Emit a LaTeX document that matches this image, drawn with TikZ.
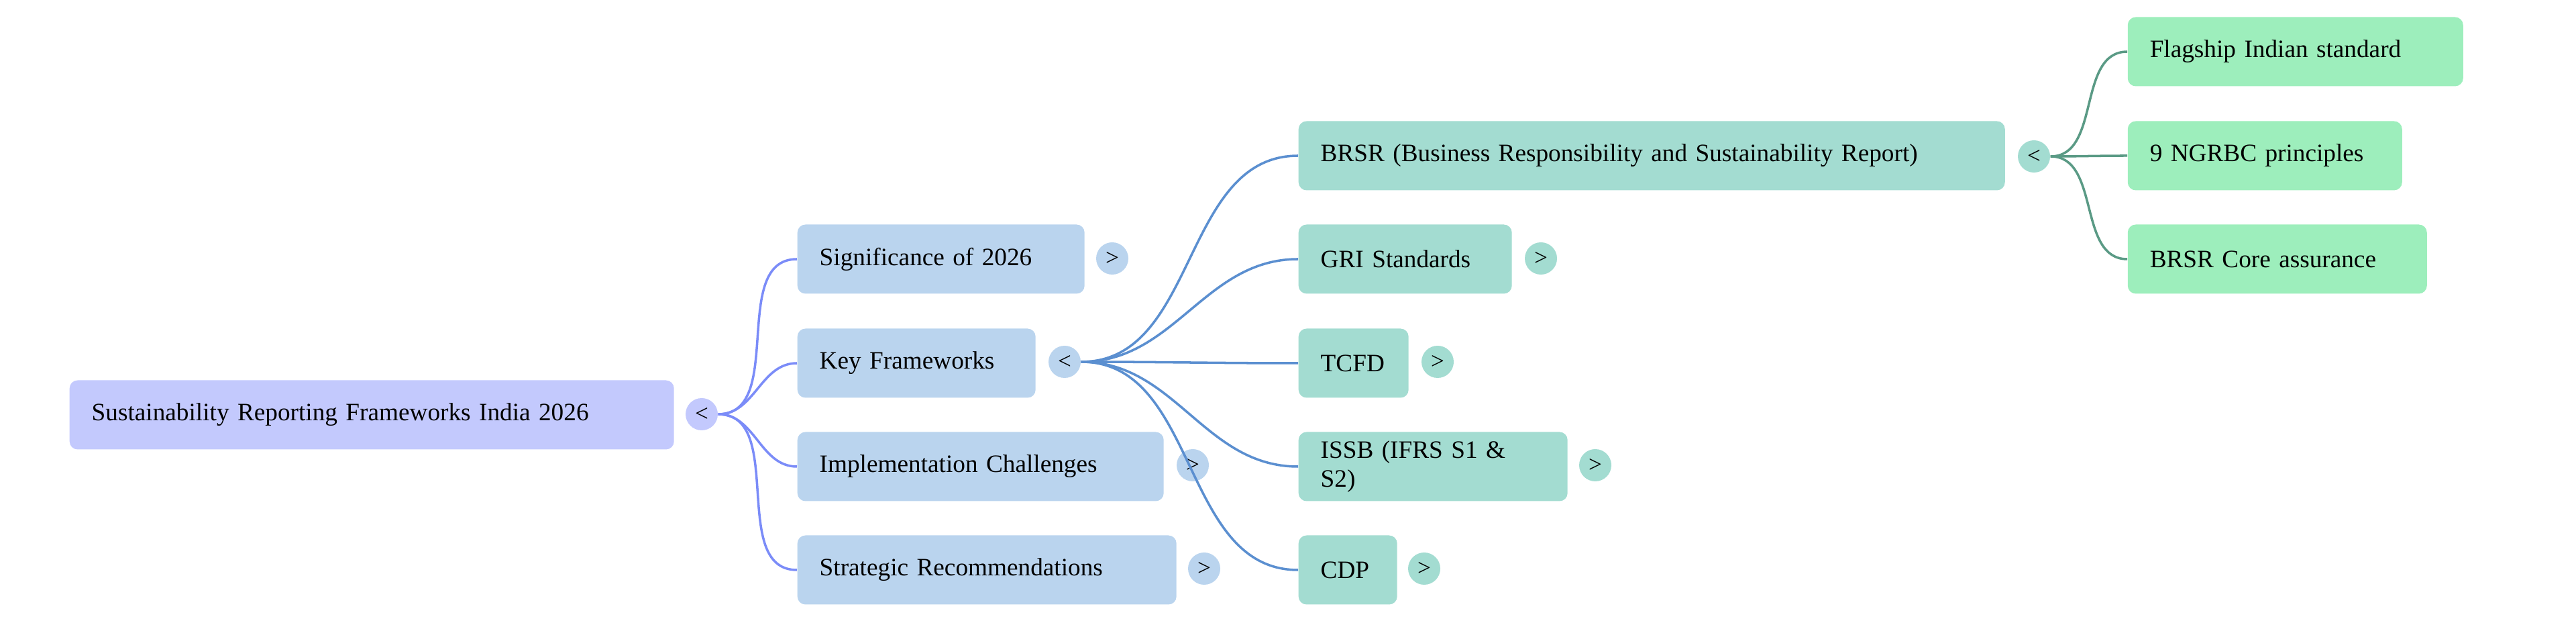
\documentclass[tikz,border=0pt]{standalone}
\usepackage{fontspec}
\setmainfont{Liberation Serif}
\usetikzlibrary{positioning}
\definecolor{rootfill}{HTML}{C3C9FD}
\definecolor{topicfill}{HTML}{BAD4EE}
\definecolor{framefill}{HTML}{A3DCD1}
\definecolor{leaffill}{HTML}{9DEEBC}
\definecolor{rootedge}{HTML}{7B8CF8}
\definecolor{topicedge}{HTML}{5B8FD0}
\definecolor{frameedge}{HTML}{5A9A85}

\begin{document}
\begin{tikzpicture}[
  box/.style={anchor=west,rounded corners=0.12cm,minimum height=1.03cm,inner xsep=0.33cm,
    font=\fontsize{10.6}{12}\selectfont,align=left},
  toggle/.style={circle,inner sep=0pt,minimum size=0.48cm,font=\fontsize{10}{12}\selectfont},
  link/.style={line width=1pt,out=0,in=180}]
  \useasboundingbox (0,0) rectangle (38.4,-9.28);

  % Root
  \node[box,fill=rootfill,text width=8.35cm] (root) at (1.03,-6.18) {Sustainability Reporting Frameworks India 2026};
  \node[toggle,fill=rootfill] (rootT) at (10.46,-6.17) {<};

  % First level
  \node[box,fill=topicfill,text width=3.62cm] (sig) at (11.88,-3.86) {Significance of 2026};
  \node[box,fill=topicfill,text width=2.89cm] (key) at (11.88,-5.41) {Key Frameworks};
  \node[box,fill=topicfill,text width=4.80cm] (impl) at (11.88,-6.95) {Implementation Challenges};
  \node[box,fill=topicfill,text width=4.99cm] (strat) at (11.88,-8.49) {Strategic Recommendations};
  \node[toggle,fill=topicfill] (sigT) at (16.58,-3.85) {>};
  \node[toggle,fill=topicfill] (keyT) at (15.87,-5.39) {<};
  \node[toggle,fill=topicfill] (implT) at (17.78,-6.93) {>};
  \node[toggle,fill=topicfill] (stratT) at (17.95,-8.47) {>};

  % Frameworks
  \node[box,fill=framefill,text width=9.87cm] (brsr) at (19.35,-2.32) {BRSR (Business Responsibility and Sustainability Report)};
  \node[box,fill=framefill,text width=2.52cm] (gri) at (19.35,-3.86) {GRI Standards};
  \node[box,fill=framefill,text width=0.98cm] (tcfd) at (19.35,-5.41) {TCFD};
  \node[box,fill=framefill,text width=3.35cm] (issb) at (19.35,-6.95) {ISSB (IFRS S1 \& S2)};
  \node[box,fill=framefill,text width=0.81cm] (cdp) at (19.35,-8.49) {CDP};
  \node[toggle,fill=framefill] (brsrT) at (30.32,-2.33) {<};
  \node[toggle,fill=framefill] (griT) at (22.97,-3.85) {>};
  \node[toggle,fill=framefill] (tcfdT) at (21.43,-5.39) {>};
  \node[toggle,fill=framefill] (issbT) at (23.78,-6.93) {>};
  \node[toggle,fill=framefill] (cdpT) at (21.23,-8.47) {>};

  % BRSR details
  \node[box,fill=leaffill,text width=4.34cm] (flag) at (31.71,-0.77) {Flagship Indian standard};
  \node[box,fill=leaffill,text width=3.43cm] (ngrbc) at (31.71,-2.32) {9 NGRBC principles};
  \node[box,fill=leaffill,text width=3.80cm] (core) at (31.71,-3.86) {BRSR Core assurance};

  % Connectors
  \foreach \n in {sig,key,impl,strat}
    \draw[link,rootedge] (rootT.east) to (\n.west);
  \foreach \n in {brsr,gri,tcfd,issb,cdp}
    \draw[link,topicedge] (keyT.east) to (\n.west);
  \foreach \n in {flag,ngrbc,core}
    \draw[link,frameedge] (brsrT.east) to (\n.west);
\end{tikzpicture}
\end{document}
